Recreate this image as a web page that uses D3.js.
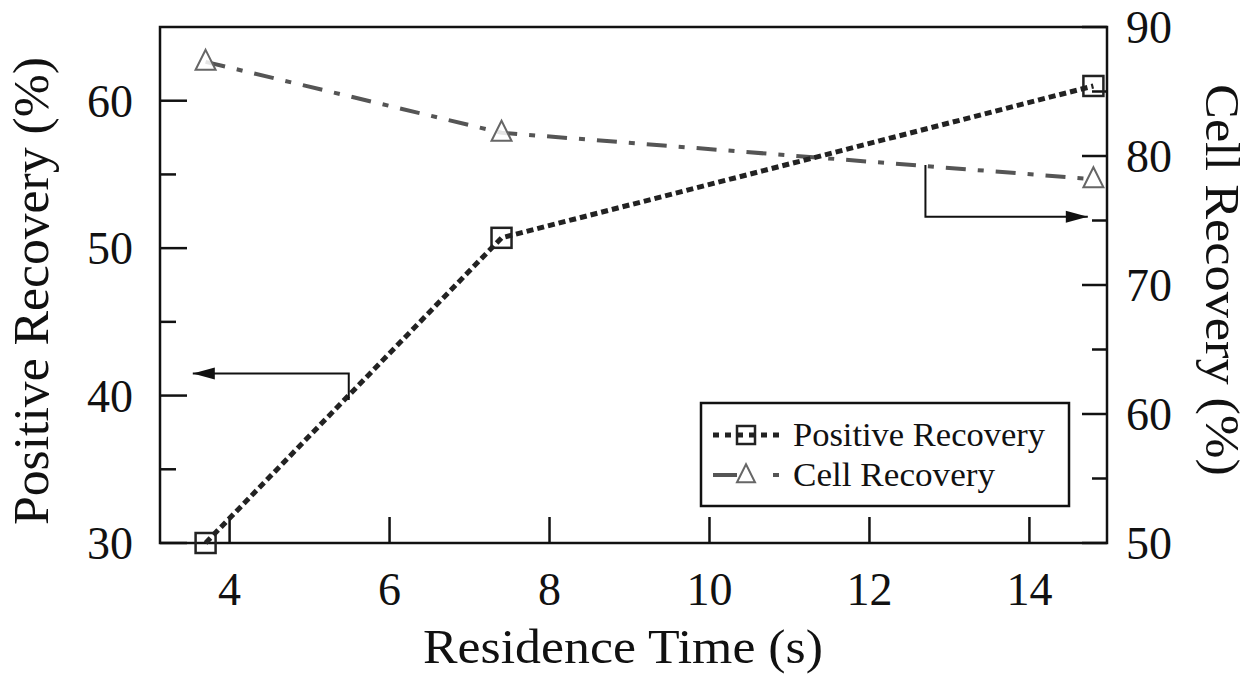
<!DOCTYPE html>
<html>
<head>
<meta charset="utf-8">
<script src="https://cdn.jsdelivr.net/npm/d3@7"></script>
<style>
  body { margin: 0; background: #fff; }
</style>
</head>
<body>
<svg id="chart" width="1258" height="678" font-family="'Liberation Serif', 'Times New Roman', serif"></svg>
<script>
// data
const residenceTime = [3.7, 7.4, 14.8];
const positiveRecovery = [30.0, 50.7, 61.0];
const cellRecovery = [87.3, 81.8, 78.2];
const xTicks = [4, 6, 8, 10, 12, 14];
const leftTicks = [30, 40, 50, 60];
const leftMinor = [35, 45, 55];
const rightTicks = [50, 60, 70, 80, 90];
const rightMinor = [55, 65, 75, 85];
const seriesNames = ['Positive Recovery', 'Cell Recovery'];

(function(){
  let margin = {left: 160, right: 151, top: 27, bottom: 135},
      width = 1258 - margin.left - margin.right,
      height = 678 - margin.top - margin.bottom;

  let svg = d3.select('svg#chart');
  let g = svg.append('g').attr('transform', `translate(${margin.left},${margin.top})`);

  let x = d3.scaleLinear().domain([3.13, 14.97]).range([0, width]);
  let yL = d3.scaleLinear().domain([30, 65]).range([height, 0]);
  let yR = d3.scaleLinear().domain([50, 90]).range([height, 0]);

  // frame
  g.append('rect')
      .attr('width', width).attr('height', height)
      .attr('fill', 'none').attr('stroke', '#111').attr('stroke-width', 2.5);

  // ticks (inward)
  let tickStyle = sel => sel.attr('stroke', '#111').attr('stroke-width', 2.5);

  g.selectAll('.xt').data(xTicks).enter().append('line')
      .attr('x1', d => x(d)).attr('x2', d => x(d))
      .attr('y1', height).attr('y2', height - 26).call(tickStyle);
  g.selectAll('.xl').data(xTicks).enter().append('text')
      .attr('x', d => x(d)).attr('y', height + 62)
      .attr('text-anchor', 'middle').attr('font-size', 46).attr('fill', '#111').text(d => d);

  g.selectAll('.lt').data(leftTicks).enter().append('line')
      .attr('x1', 0).attr('x2', 27)
      .attr('y1', d => yL(d)).attr('y2', d => yL(d)).call(tickStyle);
  g.selectAll('.lm').data(leftMinor).enter().append('line')
      .attr('x1', 0).attr('x2', 16)
      .attr('y1', d => yL(d)).attr('y2', d => yL(d)).call(tickStyle);
  g.selectAll('.ll').data(leftTicks).enter().append('text')
      .attr('x', -27).attr('y', d => yL(d)).attr('dy', '0.35em')
      .attr('text-anchor', 'end').attr('font-size', 46).attr('fill', '#111').text(d => d);

  g.selectAll('.rt').data(rightTicks).enter().append('line')
      .attr('x1', width).attr('x2', width - 25)
      .attr('y1', d => yR(d)).attr('y2', d => yR(d)).call(tickStyle);
  g.selectAll('.rm').data(rightMinor).enter().append('line')
      .attr('x1', width).attr('x2', width - 15)
      .attr('y1', d => yR(d)).attr('y2', d => yR(d)).call(tickStyle);
  g.selectAll('.rl').data(rightTicks).enter().append('text')
      .attr('x', width + 19).attr('y', d => yR(d)).attr('dy', '0.35em')
      .attr('text-anchor', 'start').attr('font-size', 46).attr('fill', '#111').text(d => d);

  // axis titles
  svg.append('text')
      .attr('x', 423).attr('y', 663)
      .attr('font-size', 48).attr('fill', '#111')
      .attr('textLength', 400).attr('lengthAdjust', 'spacingAndGlyphs')
      .text('Residence Time (s)');
  svg.append('text')
      .attr('transform', 'translate(48,525) rotate(-90)')
      .attr('font-size', 50).attr('fill', '#111')
      .attr('textLength', 468).attr('lengthAdjust', 'spacingAndGlyphs')
      .text('Positive Recovery (%)');
  svg.append('text')
      .attr('transform', 'translate(1206,84) rotate(90)')
      .attr('font-size', 48).attr('fill', '#111')
      .attr('textLength', 392).attr('lengthAdjust', 'spacingAndGlyphs')
      .text('Cell Recovery (%)');

  // lines
  let posPts = residenceTime.map((t, i) => [x(t), yL(positiveRecovery[i])]);
  let cellPts = residenceTime.map((t, i) => [x(t), yR(cellRecovery[i])]);
  let line = d3.line();

  let posDash = '7,4', cellDash = '20,12,6,12';

  g.append('path').attr('d', line(cellPts))
      .attr('fill', 'none').attr('stroke', '#555').attr('stroke-width', 4)
      .attr('stroke-dasharray', cellDash);
  g.append('path').attr('d', line(posPts))
      .attr('fill', 'none').attr('stroke', '#222').attr('stroke-width', 5)
      .attr('stroke-dasharray', posDash);

  let square = (sel, s) => sel.append('rect')
      .attr('x', d => d[0] - s / 2).attr('y', d => d[1] - s / 2)
      .attr('width', s).attr('height', s)
      .attr('fill', 'none').attr('stroke', '#222').attr('stroke-width', 2.5);
  let tri = (sel, s) => sel.append('path')
      .attr('d', d => `M${d[0]},${d[1] - s * 0.6}L${d[0] + s / 2},${d[1] + s * 0.4}L${d[0] - s / 2},${d[1] + s * 0.4}Z`)
      .attr('fill', '#fff').attr('fill-opacity', 0.85).attr('stroke', '#666').attr('stroke-width', 2);

  g.selectAll('.sq').data(posPts).enter().call(square, 20);
  g.selectAll('.tr').data(cellPts).enter().call(tri, 20);

  // arrows pointing at the owning axis
  let arrow = (pts, dir) => {
    g.append('path').attr('d', d3.line()(pts))
        .attr('fill', 'none').attr('stroke', '#111').attr('stroke-width', 2);
    let tip = pts[pts.length - 1];
    g.append('path')
        .attr('d', `M${tip[0]},${tip[1]}L${tip[0] - dir * 22},${tip[1] - 6}L${tip[0] - dir * 22},${tip[1] + 6}Z`)
        .attr('fill', '#111');
  };
  arrow([[x(5.49), yL(39.7)], [x(5.49), yL(41.5)], [x(3.54), yL(41.5)]], -1);
  arrow([[x(12.7), yR(79.3)], [x(12.7), yR(75.3)], [x(14.73), yR(75.3)]], 1);

  // legend
  let lg = svg.append('g').attr('transform', 'translate(701,403)');
  lg.append('rect').attr('width', 368).attr('height', 103)
      .attr('fill', '#fff').attr('stroke', '#111').attr('stroke-width', 2.5);
  let rows = [
    {name: seriesNames[0], y: 32, len: 252, dash: '6,6', color: '#222', w: 5, mark: 'sq'},
    {name: seriesNames[1], y: 72, len: 202, dash: '24,36,6,20', color: '#555', w: 4, mark: 'tr'}
  ];
  rows.forEach(r => {
    lg.append('line').attr('x1', 12).attr('x2', 78).attr('y1', r.y).attr('y2', r.y)
        .attr('stroke', r.color).attr('stroke-width', r.w).attr('stroke-dasharray', r.dash);
    let m = lg.selectAll(null).data([[45, r.y]]).enter();
    if(r.mark === 'sq') m.call(square, 18); else m.call(tri, 18);
    lg.append('text').attr('x', 92).attr('y', r.y + 11)
        .attr('font-size', 33).attr('fill', '#111')
        .attr('textLength', r.len).attr('lengthAdjust', 'spacingAndGlyphs')
        .text(r.name);
  });
})();
</script>
</body>
</html>
